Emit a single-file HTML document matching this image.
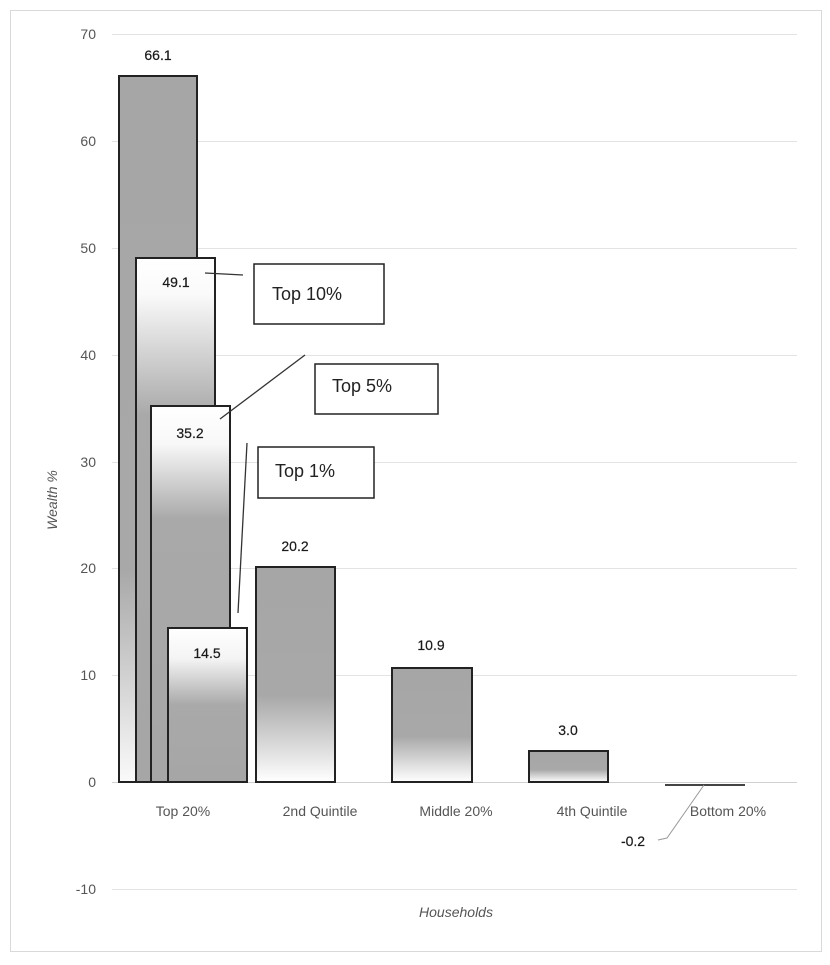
<!DOCTYPE html>
<html><head><meta charset="utf-8"><style>
body{margin:0;background:#fff}
svg text{font-family:"Liberation Sans",sans-serif}
</style></head><body>
<svg width="830" height="960" viewBox="0 0 830 960" xmlns="http://www.w3.org/2000/svg">
<defs>
<linearGradient id="q" x1="0" y1="0" x2="0" y2="1">
<stop offset="0" stop-color="#a6a6a6"/><stop offset="0.6" stop-color="#a8a8a8"/><stop offset="1" stop-color="#fff"/></linearGradient>
<linearGradient id="t20" x1="0" y1="0" x2="0" y2="1">
<stop offset="0" stop-color="#a6a6a6"/><stop offset="0.7" stop-color="#a8a8a8"/><stop offset="1" stop-color="#fafafa"/></linearGradient>
<linearGradient id="tw" x1="0" y1="0" x2="0" y2="1">
<stop offset="0" stop-color="#fff"/><stop offset="0.07" stop-color="#fafafa"/><stop offset="0.3" stop-color="#a9a9a9"/><stop offset="1" stop-color="#a6a6a6"/></linearGradient>
<linearGradient id="t5" x1="0" y1="0" x2="0" y2="1">
<stop offset="0" stop-color="#fff"/><stop offset="0.1" stop-color="#f8f8f8"/><stop offset="0.3" stop-color="#a9a9a9"/><stop offset="1" stop-color="#a6a6a6"/></linearGradient>
<linearGradient id="t1" x1="0" y1="0" x2="0" y2="1">
<stop offset="0" stop-color="#fff"/><stop offset="0.2" stop-color="#f4f4f4"/><stop offset="0.5" stop-color="#a9a9a9"/><stop offset="1" stop-color="#a6a6a6"/></linearGradient>
</defs>
<rect x="10.5" y="10.5" width="811" height="941" fill="#fff" stroke="#d9d9d9"/>
<g stroke="#e3e3e3" stroke-width="1">
<line x1="112" y1="34.5" x2="797" y2="34.5"/><line x1="112" y1="141.5" x2="797" y2="141.5"/>
<line x1="112" y1="248.5" x2="797" y2="248.5"/><line x1="112" y1="355.5" x2="797" y2="355.5"/>
<line x1="112" y1="462.5" x2="797" y2="462.5"/><line x1="112" y1="568.5" x2="797" y2="568.5"/>
<line x1="112" y1="675.5" x2="797" y2="675.5"/><line x1="112" y1="889.5" x2="797" y2="889.5"/>
</g>
<line x1="112" y1="782.5" x2="797" y2="782.5" stroke="#d0d0d0"/>
<g font-size="14" fill="#555" text-anchor="end">
<text x="96" y="39">70</text><text x="96" y="146">60</text><text x="96" y="253">50</text>
<text x="96" y="360">40</text><text x="96" y="467">30</text><text x="96" y="573">20</text>
<text x="96" y="680">10</text><text x="96" y="787">0</text><text x="96" y="894">-10</text>
</g>
<g stroke="#222" stroke-width="2">
<rect x="119" y="76" width="78" height="706" fill="url(#t20)"/>
<rect x="136" y="258" width="79" height="524" fill="url(#tw)"/>
<rect x="151" y="406" width="79" height="376" fill="url(#t5)"/>
<rect x="168" y="628" width="79" height="154" fill="url(#t1)"/>
<rect x="256" y="567" width="79" height="215" fill="url(#q)"/>
<rect x="392" y="668" width="80" height="114" fill="url(#q)"/>
<rect x="529" y="751" width="79" height="31" fill="url(#q)"/>
</g>
<line x1="665" y1="785" x2="745" y2="785" stroke="#444" stroke-width="2"/>
<g font-size="14" fill="#1a1a1a" text-anchor="middle" stroke="#1a1a1a" stroke-width="0.2">
<text x="158" y="60">66.1</text><text x="176" y="287">49.1</text><text x="190" y="438">35.2</text>
<text x="207" y="658">14.5</text><text x="295" y="551">20.2</text><text x="431" y="650">10.9</text>
<text x="568" y="735">3.0</text><text x="633" y="846">-0.2</text>
</g>
<g stroke="#333" stroke-width="1.3" fill="none">
<line x1="205" y1="273" x2="243" y2="275"/>
<line x1="220" y1="419" x2="305" y2="355"/>
<line x1="238" y1="613" x2="247" y2="443"/>
</g>
<polyline points="658,840 667,838 704,785" stroke="#999" fill="none"/>
<g fill="#fff" stroke="#222" stroke-width="1.5">
<rect x="254" y="264" width="130" height="60"/>
<rect x="315" y="364" width="123" height="50"/>
<rect x="258" y="447" width="116" height="51"/>
</g>
<g font-size="18" fill="#222">
<text x="272" y="300">Top 10%</text><text x="332" y="392">Top 5%</text><text x="275" y="477">Top 1%</text>
</g>
<g font-size="14" fill="#555" text-anchor="middle">
<text x="183" y="816">Top 20%</text><text x="320" y="816">2nd Quintile</text>
<text x="456" y="816">Middle 20%</text><text x="592" y="816">4th Quintile</text><text x="728" y="816">Bottom 20%</text>
</g>
<text x="456" y="917" font-size="14" font-style="italic" fill="#555" text-anchor="middle">Households</text>
<text transform="translate(57,500) rotate(-90)" font-size="14" font-style="italic" fill="#555" text-anchor="middle">Wealth %</text>
</svg>
</body></html>
